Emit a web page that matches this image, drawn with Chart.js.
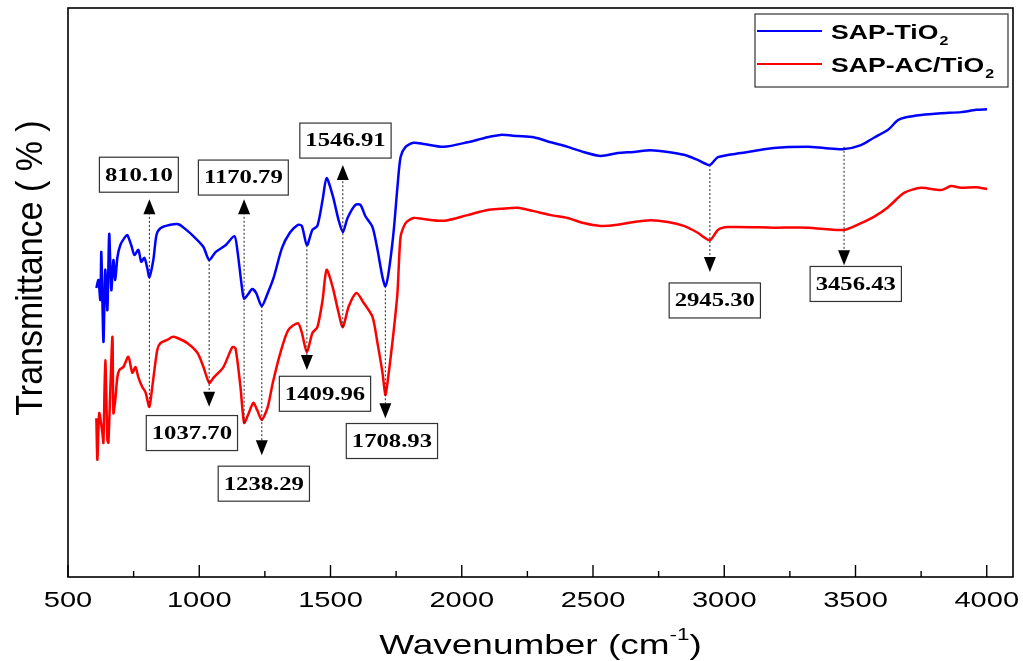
<!DOCTYPE html>
<html>
<head>
<meta charset="utf-8">
<script src="https://cdn.jsdelivr.net/npm/chart.js@4.4.1/dist/chart.umd.min.js"></script>
<style>
  body { margin: 0; background: #fff; }
</style>
</head>
<body>
<canvas id="ftirChart" width="1023" height="661"></canvas>
<script>
// SAP-TiO2 (blue)
const tio2Wavenumber = [608, 616, 623, 627, 635, 642, 650, 657, 665, 673, 680, 688, 699, 715, 726, 741, 753, 768, 779, 791,
  802, 810, 825, 837, 852, 890, 921, 951, 989, 1016, 1038, 1062, 1100, 1134, 1145, 1164, 1171, 1186, 1202, 1217,
  1238, 1261, 1284, 1315, 1345, 1376, 1391, 1410, 1431, 1450, 1470, 1485, 1508, 1531, 1547, 1565, 1595, 1614, 1633, 1660,
  1679, 1698, 1709, 1721, 1740, 1755, 1767, 1786, 1816, 1854, 1931, 2022, 2098, 2148, 2213, 2274, 2339, 2403, 2464, 2529,
  2594, 2655, 2720, 2785, 2846, 2899, 2945, 2976, 3063, 3189, 3319, 3380, 3456, 3521, 3570, 3624, 3662, 3692, 3750, 3826,
  3902, 3959, 4001];
const tio2Transmittance = [50.8, 52.2, 48.7, 57.1, 41.3, 54.0, 46.9, 60.3, 50.4, 55.7, 52.2, 56.1, 58.3, 59.6, 60.1, 58.3, 56.6, 57.5, 55.4, 56.1,
  54.3, 52.7, 55.7, 60.1, 61.3, 61.9, 62.0, 61.0, 59.4, 58.0, 55.7, 57.1, 58.3, 59.9, 57.5, 50.4, 48.9, 49.7, 50.6, 49.9,
  47.6, 49.9, 52.7, 57.8, 60.5, 61.9, 61.7, 58.3, 61.0, 61.7, 66.3, 70.1, 67.1, 62.7, 60.6, 63.1, 65.4, 65.4, 63.4, 61.5,
  57.5, 52.7, 51.1, 53.4, 60.5, 68.5, 73.8, 75.6, 76.3, 76.1, 75.6, 76.4, 77.3, 77.7, 77.5, 77.3, 76.4, 75.6, 74.7, 74.0,
  74.5, 74.7, 75.0, 74.7, 74.2, 73.3, 72.4, 73.8, 74.5, 75.4, 75.6, 75.4, 75.2, 75.9, 77.2, 78.6, 80.3, 80.8, 81.2, 81.5,
  81.7, 82.1, 82.2];

// SAP-AC/TiO2 (red)
const acWavenumber = [608, 612, 619, 631, 635, 642, 650, 654, 669, 673, 680, 688, 696, 711, 730, 745, 757, 768, 783, 795,
  810, 821, 840, 852, 879, 898, 917, 955, 993, 1016, 1038, 1054, 1092, 1126, 1138, 1157, 1171, 1186, 1206, 1221,
  1238, 1261, 1280, 1309, 1339, 1376, 1391, 1410, 1431, 1450, 1470, 1485, 1508, 1531, 1547, 1569, 1599, 1626, 1660, 1679,
  1698, 1709, 1717, 1737, 1755, 1767, 1786, 1816, 1854, 1931, 2022, 2098, 2148, 2213, 2274, 2339, 2403, 2464, 2529, 2594,
  2655, 2720, 2785, 2846, 2899, 2945, 2976, 3014, 3189, 3319, 3456, 3521, 3570, 3624, 3685, 3750, 3826, 3864, 3902, 3959,
  4001];
const acTransmittance = [27.9, 20.6, 28.8, 25.3, 23.6, 38.1, 24.1, 23.6, 42.2, 28.8, 31.1, 35.1, 36.4, 36.9, 38.7, 35.9, 36.9, 35.1, 33.4, 32.5,
  29.9, 33.4, 39.9, 41.1, 41.7, 42.2, 42.0, 41.1, 39.4, 36.9, 34.1, 35.0, 36.9, 40.4, 40.2, 33.4, 27.1, 28.5, 30.6, 29.3,
  27.6, 29.9, 34.1, 39.4, 43.4, 44.6, 42.9, 39.5, 42.9, 43.9, 48.7, 54.0, 51.0, 46.4, 43.9, 47.5, 49.9, 48.2, 45.7, 41.1,
  35.9, 32.0, 34.1, 41.7, 49.9, 59.8, 62.2, 63.1, 62.9, 62.6, 63.6, 64.5, 64.7, 64.9, 64.3, 63.6, 63.1, 62.2, 61.7, 61.9,
  62.4, 62.7, 62.4, 61.7, 60.5, 59.2, 61.0, 61.5, 61.4, 61.4, 61.0, 62.2, 63.3, 65.0, 67.5, 68.4, 68.0, 68.7, 68.4, 68.5,
  68.2];

// peak labels: arrow start value, arrow tip value, label box centre (wavenumber, value)
const peakLabels = ["810.10", "1170.79", "1546.91", "1037.70", "1238.29", "1409.96", "1708.93", "2945.30", "3456.43"];
const peakFrom = [29.9, 27.1, 43.9, 55.7, 47.6, 58.3, 51.1, 72.4, 75.6];
const peakTip = [66.4, 66.4, 72.4, 29.9, 21.4, 36.4, 27.9, 53.6, 54.8];
const peakBoxX = [770, 1168, 1557, 972, 1246, 1479, 1734, 2964, 3501];
const peakBoxY = [70.7, 70.2, 76.7, 25.3, 16.4, 32.2, 23.9, 48.6, 51.5];

const xTickLabels = [500, 1000, 1500, 2000, 2500, 3000, 3500, 4000];
const xMinorTicks = [750, 1250, 1750, 2250, 2750, 3250, 3750];

const STRETCH = 1.32;

function wideText(ctx, text, px, py, sx, align) {
  ctx.save();
  ctx.translate(px, py);
  ctx.scale(sx, 1);
  ctx.textAlign = align || "left";
  ctx.fillText(text, 0, 0);
  ctx.restore();
}

const decorPlugin = {
  id: "decor",
  afterDatasetsDraw(chart) {
    const { ctx, chartArea: a, scales: { x, y } } = chart;
    ctx.save();

    // frame
    ctx.strokeStyle = "#000";
    ctx.lineWidth = 1.6;
    ctx.strokeRect(a.left, a.top, a.right - a.left, a.bottom - a.top);

    // bottom ticks, pointing into the plot
    ctx.lineWidth = 1.4;
    const tick = (v, len) => {
      const px = x.getPixelForValue(v);
      ctx.beginPath();
      ctx.moveTo(px, a.bottom);
      ctx.lineTo(px, a.bottom - len);
      ctx.stroke();
    };
    xTickLabels.forEach(v => tick(v, 12));
    xMinorTicks.forEach(v => tick(v, 6));

    // tick labels
    ctx.fillStyle = "#000";
    ctx.font = "22px 'Liberation Sans', Arial, sans-serif";
    ctx.textBaseline = "alphabetic";
    xTickLabels.forEach(v => {
      wideText(ctx, String(v), x.getPixelForValue(v), a.bottom + 30, STRETCH, "center");
    });

    // x title with superscript
    const cx = (a.left + a.right) / 2;
    ctx.font = "28px 'Liberation Sans', Arial, sans-serif";
    const p1 = "Wavenumber (cm", p3 = ")";
    const w1 = ctx.measureText(p1).width;
    const w3 = ctx.measureText(p3).width;
    ctx.font = "17px 'Liberation Sans', Arial, sans-serif";
    const w2 = ctx.measureText("-1").width;
    const total = (w1 + w2 + w3) * STRETCH;
    let sx = cx - total / 2;
    ctx.font = "28px 'Liberation Sans', Arial, sans-serif";
    wideText(ctx, p1, sx, 654, STRETCH, "left");
    sx += w1 * STRETCH;
    ctx.font = "17px 'Liberation Sans', Arial, sans-serif";
    wideText(ctx, "-1", sx, 640, STRETCH, "left");
    sx += w2 * STRETCH;
    ctx.font = "28px 'Liberation Sans', Arial, sans-serif";
    wideText(ctx, p3, sx, 654, STRETCH, "left");

    // y title
    ctx.save();
    ctx.translate(42, 268);
    ctx.rotate(-Math.PI / 2);
    ctx.scale(1, 1.1);
    ctx.font = "34px 'Liberation Sans', Arial, sans-serif";
    ctx.textAlign = "center";
    ctx.fillText("Transmittance ( % )", 0, 0);
    ctx.restore();

    // peak arrows and labels
    peakLabels.forEach((label, i) => {
      const px = x.getPixelForValue(parseFloat(label));
      const from = y.getPixelForValue(peakFrom[i]);
      const tip = y.getPixelForValue(peakTip[i]);
      const dir = tip < from ? 1 : -1; // 1 = arrow points up
      const base = tip + dir * 15;

      ctx.strokeStyle = "#222";
      ctx.lineWidth = 1;
      ctx.setLineDash([2, 2]);
      ctx.beginPath();
      ctx.moveTo(px, from);
      ctx.lineTo(px, base);
      ctx.stroke();
      ctx.setLineDash([]);

      ctx.fillStyle = "#000";
      ctx.beginPath();
      ctx.moveTo(px, tip);
      ctx.lineTo(px - 6, base);
      ctx.lineTo(px + 6, base);
      ctx.closePath();
      ctx.fill();

      ctx.font = "bold 19px 'Liberation Serif', 'Times New Roman', serif";
      const tw = ctx.measureText(label).width * 1.3;
      const bw = tw + 11, bh = 35;
      const bx = x.getPixelForValue(peakBoxX[i]);
      const by = y.getPixelForValue(peakBoxY[i]);
      ctx.fillStyle = "#fff";
      ctx.fillRect(bx - bw / 2, by - bh / 2, bw, bh);
      ctx.strokeStyle = "#333";
      ctx.lineWidth = 1.2;
      ctx.strokeRect(bx - bw / 2, by - bh / 2, bw, bh);
      ctx.fillStyle = "#000";
      ctx.textBaseline = "middle";
      wideText(ctx, label, bx, by + 1, 1.3, "center");
      ctx.textBaseline = "alphabetic";
    });

    // legend
    ctx.strokeStyle = "#333";
    ctx.lineWidth = 1.2;
    ctx.strokeRect(755, 14, 253, 73);
    const legendItems = [["SAP-TiO", "#0000ff", 31, 39], ["SAP-AC/TiO", "#ff0000", 64, 72]];
    legendItems.forEach(([name, color, ly, tb]) => {
      ctx.strokeStyle = color;
      ctx.lineWidth = 2;
      ctx.beginPath();
      ctx.moveTo(757, ly);
      ctx.lineTo(822, ly);
      ctx.stroke();
      ctx.fillStyle = "#000";
      ctx.font = "bold 20px 'Liberation Sans', Arial, sans-serif";
      const nw = ctx.measureText(name).width * 1.33;
      wideText(ctx, name, 831, tb, 1.33, "left");
      ctx.font = "bold 12px 'Liberation Sans', Arial, sans-serif";
      wideText(ctx, "2", 831 + nw + 1, tb + 6, 1.33, "left");
    });

    ctx.restore();
  }
};

function toPoints(xs, ys) {
  return xs.map((v, i) => ({ x: v, y: ys[i] }));
}

new Chart(document.getElementById("ftirChart"), {
  type: "scatter",
  data: {
    datasets: [
      {
        label: "SAP-TiO2",
        data: toPoints(tio2Wavenumber, tio2Transmittance),
        borderColor: "#0000ff",
        borderWidth: 2.5,
        showLine: true,
        pointRadius: 0,
        tension: 0.25
      },
      {
        label: "SAP-AC/TiO2",
        data: toPoints(acWavenumber, acTransmittance),
        borderColor: "#ff0000",
        borderWidth: 2.5,
        showLine: true,
        pointRadius: 0,
        tension: 0.25
      }
    ]
  },
  options: {
    responsive: false,
    animation: false,
    layout: { padding: { top: 8, right: 10, left: 0, bottom: 0 } },
    plugins: { legend: { display: false }, tooltip: { enabled: false } },
    scales: {
      x: {
        type: "linear",
        min: 500,
        max: 4100,
        ticks: { display: false },
        grid: { display: false },
        border: { display: false },
        afterFit: s => { s.height = 84; }
      },
      y: {
        min: 0,
        max: 100,
        ticks: { display: false },
        grid: { display: false },
        border: { display: false },
        afterFit: s => { s.width = 68; }
      }
    }
  },
  plugins: [decorPlugin]
});
</script>
</body>
</html>
